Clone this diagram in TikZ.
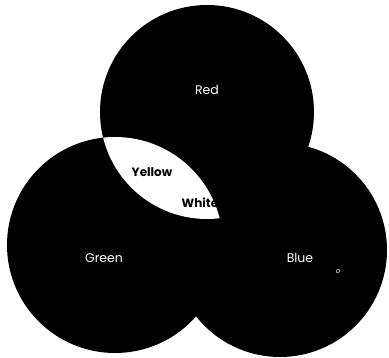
\documentclass[tikz,border=0pt]{standalone}
\usepackage{fontspec}
\setmainfont{Poppins}
\usepackage{tikz}
\usetikzlibrary{positioning}

\begin{document}
\begin{tikzpicture}[x=1pt, y=-1pt,
  disc/.style={circle, fill=black, inner sep=0pt, minimum size=#1},
  lbl/.style={text=white, font=\fontsize{12.5}{14}\selectfont},
  mix/.style={text=black, font=\fontsize{12}{14}\selectfont\bfseries, inner sep=0pt}]
  \useasboundingbox (0,0) rectangle (389,358);
  % the three lights
  \node[disc=214pt] (red) at (207,112) {};
  \node[disc=216pt] (green) at (115,245) {};
  \node[disc=214pt] (blue) at (280,250) {};
  % red and green overlap
  \begin{scope}
    \clip (red.center) circle (107);
    \fill[white] (green.center) circle (108);
    \node[mix] (yellow) at (152,172) {Yellow};
    \node[mix] (white) at (200,203) {White};
  \end{scope}
  \node[lbl] (redlbl) at (207,90) {Red};
  \node[lbl] (greenlbl) at (104,258) {Green};
  \node[lbl] (bluelbl) at (300,258) {Blue};
  \node[text=white, font=\scriptsize\itshape, inner sep=0pt] (dot) at (338,272) {o};
\end{tikzpicture}
\end{document}
